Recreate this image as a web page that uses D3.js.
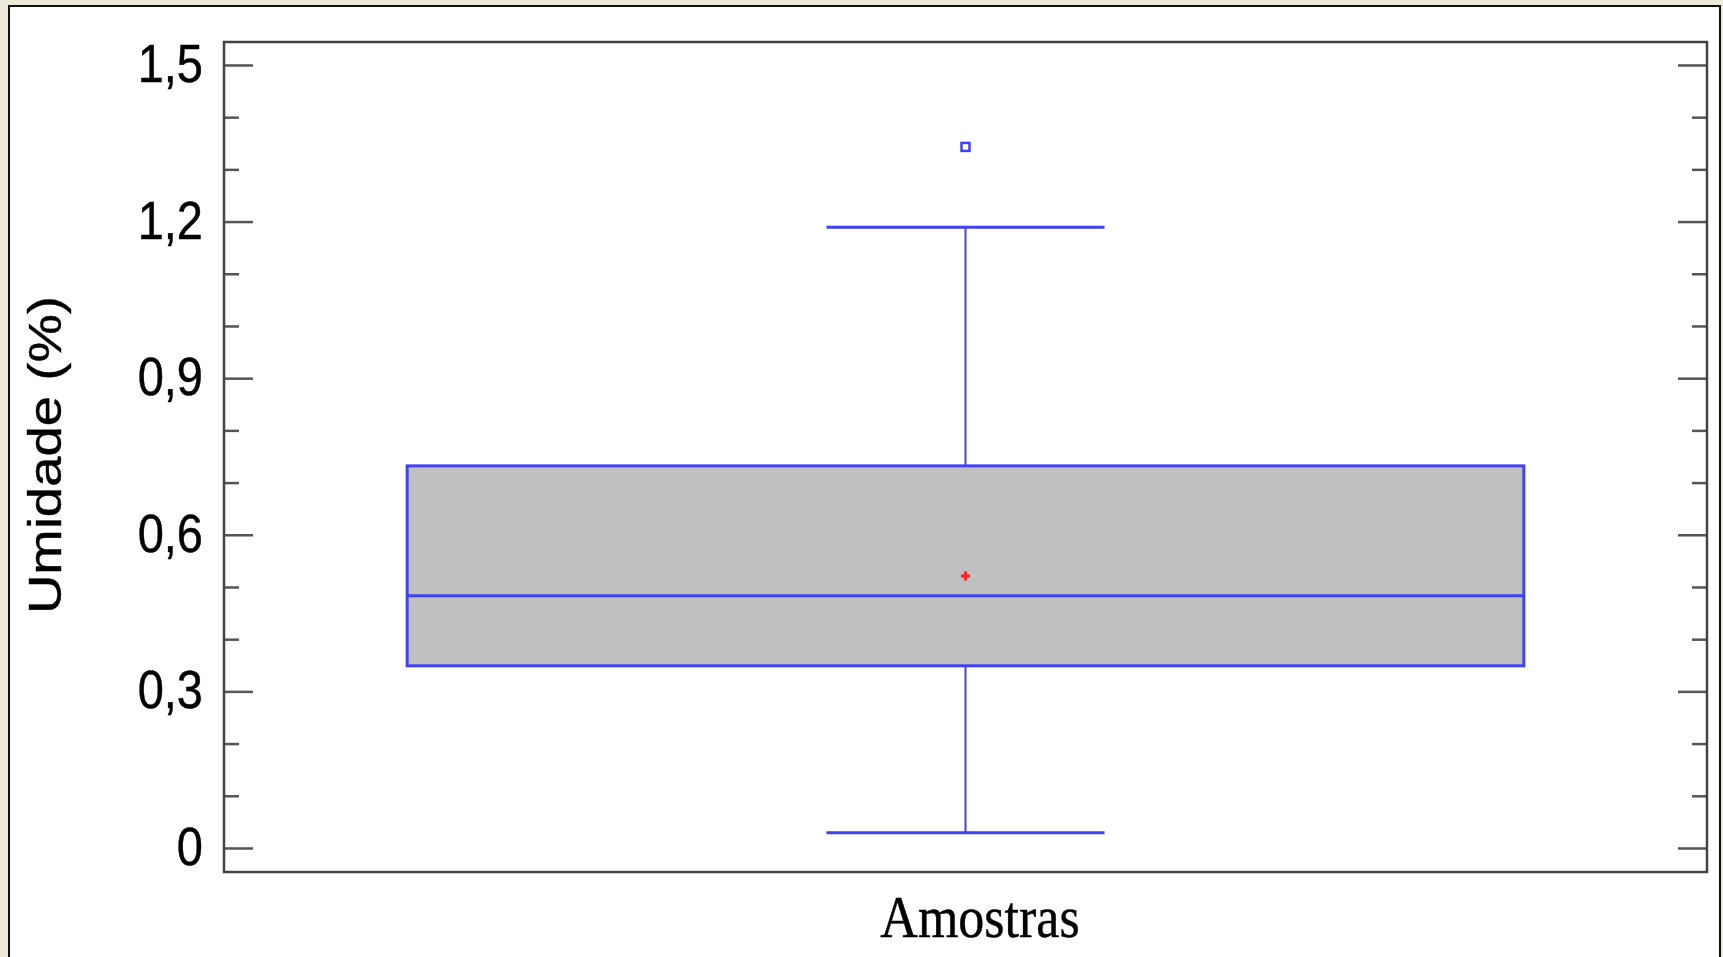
<!DOCTYPE html>
<html>
<head>
<meta charset="utf-8">
<script src="https://cdn.jsdelivr.net/npm/d3@7"></script>
<style>
  body { margin: 0; background: #ECE9D8; }
  svg { display: block; }
</style>
</head>
<body>
<svg width="1723" height="957"></svg>
<script>
// box plot data
const categories = ["Amostras"];
const q1 = [0.349];
const medians = [0.483];
const q3 = [0.732];
const whiskerLow = [0.029];
const whiskerHigh = [1.189];
const means = [0.521];
const outliers = [[1.343]];
const majorTicks = [0, 0.3, 0.6, 0.9, 1.2, 1.5];
const tickLabels = ["0", "0,3", "0,6", "0,9", "1,2", "1,5"];
const minorTicks = [0.1, 0.2, 0.4, 0.5, 0.7, 0.8, 1.0, 1.1, 1.3, 1.4];

const svg = d3.select("svg");
const plotL = 224, plotR = 1707, plotT = 42, plotB = 872;
const blue = "#4141f5";

// white panel with black border (left, top, right)
svg.append("rect").attr("x", 9).attr("y", 6).attr("width", 1711).attr("height", 960)
  .attr("fill", "#fff").attr("stroke", "#111").attr("stroke-width", 2);

let y = d3.scaleLinear().domain([-0.046, 1.544]).range([plotB, plotT]);
let x = d3.scalePoint().domain(categories).range([plotL, plotR]).padding(0.5);
const boxW = (plotR - plotL) * 0.753;
const capW = boxW * 0.249;

// ticks, inward on both sides
function tickAxis(axisFn, xpos, values, size) {
  let g = svg.append("g").attr("transform", "translate(" + xpos + ",0)")
    .call(axisFn(y).tickValues(values).tickSize(size).tickFormat(""));
  g.select(".domain").remove();
  g.selectAll("line").attr("stroke", "#555").attr("stroke-width", 2.5);
  return g;
}
tickAxis(d3.axisRight, plotL, majorTicks, 29);
tickAxis(d3.axisRight, plotL, minorTicks, 15);
tickAxis(d3.axisLeft, plotR, majorTicks, 29);
tickAxis(d3.axisLeft, plotR, minorTicks, 15);

// tick labels
let labels = svg.append("g").attr("transform", "translate(" + plotL + ",0)")
  .call(d3.axisLeft(y).tickValues(majorTicks).tickSize(0).tickPadding(21)
    .tickFormat((d, i) => tickLabels[i]));
labels.select(".domain").remove();
labels.selectAll("text")
  .attr("font-family", "Liberation Sans, Arial, sans-serif")
  .attr("font-size", 47).attr("fill", "#000")
  .attr("stroke", "#000").attr("stroke-width", 0.4)
  .attr("transform", "scale(1,1.13)")
  .attr("dy", "0.31em");

// plot frame
svg.append("rect").attr("x", plotL).attr("y", plotT)
  .attr("width", plotR - plotL).attr("height", plotB - plotT)
  .attr("fill", "none").attr("stroke", "#444").attr("stroke-width", 2.5);

// boxes
let box = svg.append("g").selectAll("g").data(categories).enter().append("g");
box.append("line")
  .attr("x1", d => x(d)).attr("x2", d => x(d))
  .attr("y1", (d, i) => y(whiskerHigh[i])).attr("y2", (d, i) => y(q3[i]))
  .attr("stroke", blue).attr("stroke-width", 2);
box.append("line")
  .attr("x1", d => x(d)).attr("x2", d => x(d))
  .attr("y1", (d, i) => y(q1[i])).attr("y2", (d, i) => y(whiskerLow[i]))
  .attr("stroke", blue).attr("stroke-width", 2);
[whiskerHigh, whiskerLow].forEach(arr => {
  box.append("line")
    .attr("x1", d => x(d) - capW / 2).attr("x2", d => x(d) + capW / 2)
    .attr("y1", (d, i) => y(arr[i])).attr("y2", (d, i) => y(arr[i]))
    .attr("stroke", blue).attr("stroke-width", 3);
});
box.append("rect")
  .attr("x", d => x(d) - boxW / 2).attr("width", boxW)
  .attr("y", (d, i) => y(q3[i])).attr("height", (d, i) => y(q1[i]) - y(q3[i]))
  .attr("fill", "#c0c0c0").attr("stroke", blue).attr("stroke-width", 3);
box.append("line")
  .attr("x1", d => x(d) - boxW / 2).attr("x2", d => x(d) + boxW / 2)
  .attr("y1", (d, i) => y(medians[i])).attr("y2", (d, i) => y(medians[i]))
  .attr("stroke", blue).attr("stroke-width", 3);
// mean marker
box.append("path")
  .attr("d", d3.symbol(d3.symbolCross, 45)())
  .attr("transform", (d, i) => "translate(" + x(d) + "," + y(means[i]) + ")")
  .attr("fill", "#ff2020");
// outliers
box.each(function(d, i) {
  d3.select(this).selectAll(".out").data(outliers[i]).enter().append("rect")
    .attr("class", "out")
    .attr("x", x(d) - 4).attr("y", v => y(v) - 4)
    .attr("width", 8).attr("height", 8)
    .attr("fill", "#fff").attr("stroke", blue).attr("stroke-width", 2.5);
});

// axis titles
svg.append("text")
  .attr("transform", "translate(980,937) scale(1,1.13)")
  .attr("text-anchor", "middle")
  .attr("font-family", "Liberation Serif, Times New Roman, serif")
  .attr("font-size", 52).attr("fill", "#000")
  .attr("stroke", "#000").attr("stroke-width", 0.4)
  .text("Amostras");
svg.append("text")
  .attr("transform", "translate(61,455) rotate(-90) scale(1.16,1)")
  .attr("text-anchor", "middle")
  .attr("font-family", "Liberation Sans, Arial, sans-serif")
  .attr("font-size", 47).attr("fill", "#000")
  .attr("stroke", "#000").attr("stroke-width", 0.4)
  .text("Umidade (%)");
</script>
</body>
</html>
